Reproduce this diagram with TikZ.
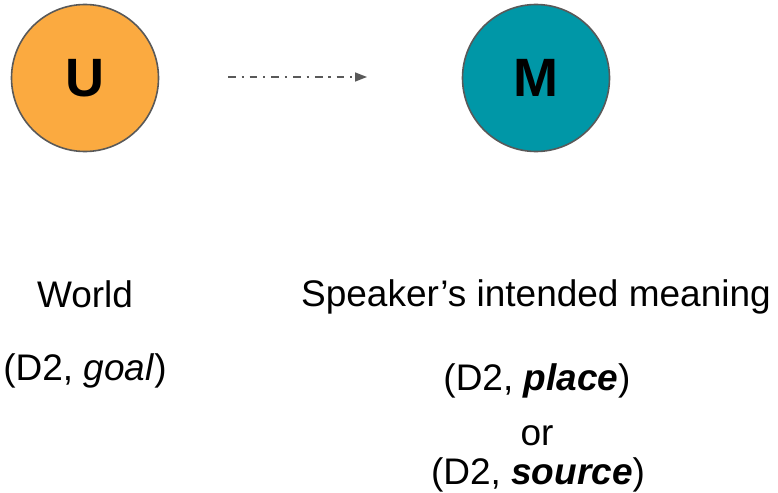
\documentclass[tikz,border=0pt]{standalone}
\usepackage{fontspec}
\setmainfont{Liberation Sans}
\usetikzlibrary{arrows.meta}
\definecolor{uorange}{HTML}{FBAA40}
\definecolor{mteal}{HTML}{0097A7}
\definecolor{edgegray}{HTML}{595959}
\begin{document}
\begin{tikzpicture}[x=1pt,y=-1pt,
  circ/.style={circle,draw=edgegray,line width=1.6pt,minimum size=147pt,inner sep=0pt,
    font=\fontsize{54}{60}\selectfont\bfseries},
  lbl/.style={anchor=base,inner sep=0pt,font=\fontsize{37}{44}\selectfont},
  dashdot/.style={draw=edgegray,line width=1.6pt,dash pattern=on 7.7pt off 5.8pt on 2.2pt off 6pt,
    -{Triangle[length=12pt,width=9pt]}}]
\useasboundingbox (0,0) rectangle (778,492);
\node[circ,fill=uorange] (u) at (85,78) {U};
\node[circ,fill=mteal] (m) at (536,78) {M};
\coordinate (a1) at (228,77);
\coordinate (a2) at (367,77);
\draw[dashdot] (a1) -- (a2);
\node[lbl] (world) at (85,307) {World};
\node[lbl] (goal) at (85,380) {(D2, \textit{goal})};
\node[lbl] (speaker) at (536,306) {Speaker’s intended meaning};
\node[lbl] (place) at (537,390) {(D2, \textbf{\textit{place}})};
\node[lbl] (or) at (537,445) {or};
\node[lbl] (source) at (538,484) {(D2, \textbf{\textit{source}})};
\end{tikzpicture}
\end{document}
